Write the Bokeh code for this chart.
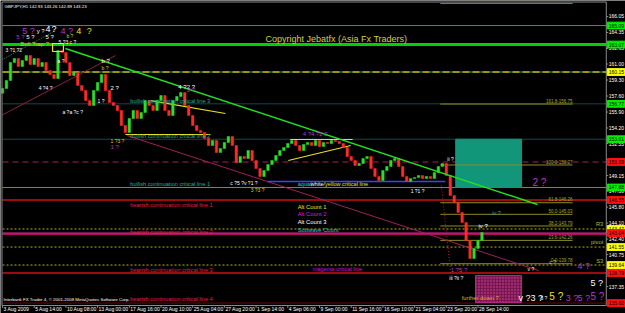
from bokeh.plotting import figure
from bokeh.models import Range1d
from bokeh.embed import file_html
from bokeh.resources import INLINE
from bokeh.core.properties import value

# ---------------- data ----------------
symbol_info = "GBPJPY,H1  142.93 143.26 142.89 143.23"
copyright_text = "Copyright Jebatfx (Asia Fx Traders)"
footer_text = "Interbank FX Trader 4, \u00a9 2001-2008 MetaQuotes Software Corp."

bars_per_candle = 8
first_open = 157.90
closes = [
    158.40, 159.25, 161.16, 161.59, 160.74, 161.37, 161.91, 160.95, 161.59, 160.74,
    161.16, 160.31, 159.89, 159.46, 162.44, 162.22, 161.16, 159.78, 160.10, 158.72,
    158.19, 157.12, 156.59, 158.19, 159.04, 159.89, 158.19, 156.91, 156.59, 156.06,
    154.47, 153.72, 155.21, 156.06, 155.21, 155.85, 157.12, 156.59, 156.06, 157.12,
    157.65, 156.06, 155.53, 157.12, 157.55, 157.97, 156.59, 155.53, 154.47, 153.94,
    153.72, 153.08, 152.34, 152.87, 151.60, 152.02, 152.66, 153.30, 152.34, 150.53,
    151.17, 150.96, 151.81, 150.75, 149.90, 149.05, 149.68, 150.32, 150.75, 151.28,
    151.81, 152.13, 152.55, 152.87, 152.34, 151.81, 152.45, 152.66, 152.34, 152.87,
    152.23, 152.66, 152.55, 152.87, 152.77, 152.55, 152.13, 151.17, 150.75, 150.22,
    150.43, 150.96, 151.17, 149.90, 149.05, 148.62, 149.68, 150.11, 150.75, 150.96,
    150.11, 149.05, 148.52, 148.83, 148.94, 149.15, 148.83, 149.05, 148.83, 149.47,
    150.11, 150.43, 149.15, 147.03, 146.28, 145.22, 144.16, 142.25, 140.33, 141.40,
    142.25, 143.10,
]

time_ticks = [0, 64, 128, 192, 256, 320, 384, 448, 512, 576, 640, 704, 768, 832, 896, 960]
time_labels = ["3 Aug 2009", "5 Aug 14:00", "10 Aug 08:00", "13 Aug 00:00", "17 Aug 16:00",
               "20 Aug 10:00", "25 Aug 04:00", "27 Aug 20:00", "1 Sep 14:00", "4 Sep 06:00",
               "9 Sep 00:00", "11 Sep 16:00", "16 Sep 10:00", "21 Sep 04:00", "23 Sep 20:00",
               "28 Sep 14:00"]
price_ticks = [166.05, 164.35, 162.65, 161.00, 159.30, 157.60, 155.90, 154.20, 152.55,
               150.85, 149.15, 147.50, 145.80, 144.10, 142.40, 140.75, 139.05, 137.35]

# horizontal levels
resistance_top = 165.09
bull_trap_level = 163.07
dashed_level = 160.15
bull_crit_3 = 156.77
bull_crit_2 = 153.01
maroon_dash = 150.59
bull_crit_1 = 147.88
bear_crit_1 = 146.55
r3_level = 143.47
bear_crit_2 = 143.04
bear_crit_2b = 142.88
pivot_level = 141.55
s3_level = 139.64
bear_crit_3 = 138.79
bear_crit_4 = 135.60

# fibonacci
fib_ratios = ["261.8", "161.8", "100.0", "61.8", "50.0", "38.2", "23.6", "0.0"]
fib_prices = [167.44, 156.75, 150.27, 146.26, 145.03, 143.79, 142.26, 139.78]
fib_bars = [884, 1151]

# trend lines: (bars, prices)
green_trend = ([127, 1080], [162.65, 146.07])
maroon_rise = ([0, 228], [155.60, 161.90])
maroon_fall = ([252, 1082], [153.40, 139.06])
teal_rise = ([0, 107], [161.48, 164.56])
yellow_a = ([299, 450], [157.12, 155.74])
yellow_b = ([248, 420], [153.51, 153.51])
tri_top = ([581, 707], [152.98, 152.98])
tri_bottom = ([577, 703], [150.75, 152.34])
blue_line = ([535, 894], [148.52, 148.52])
red_vertical = ([886, 906], [148.09, 138.31])

# boxes: (left bar, right bar, top price, bottom price)
teal_box = (915, 1048, 153.01, 147.88)
magenta_box = (955, 1048, 138.53, 135.66)
trap_box = (101, 123, 163.18, 162.33)

# named texts: (bar, price)
copyright_pos = (531, 163.61)
info_pos = (4, 167.15)
footer_pos = (2, 135.95)
bull_trap_pos = (36, 163.18)
critical_text_bar = 258
bull_text_prices = [157.12, 153.30, 148.20]
bear_text_prices = [146.07, 143.10, 139.16, 136.08]
alt_bar = 596
alt_prices = [145.86, 145.01, 144.16, 143.31]
awy_pos = (596, 148.20)
magenta_crit_pos = (626, 139.27)
further_pos = (927, 136.19)
pivot_text_bar = 1213
pivot_text_prices = [143.95, 142.14, 140.12]

# wave labels grouped by look: (texts, bars, prices)
white_small = (["5 ?3 c ?", "3 ?1 ?2", "a ?", "4 ?4 ?", "1 ?", "a ?a ?c ?", "c ?5 ?v ?1 ?",
                "ii ?", "1 ?1 ?", "iii ?ii ?", "v ?", "5 ?"],
               [113, 6, 111, 73, 192, 121, 460, 898, 824, 902, 1060, 1086],
               [163.29, 162.44, 161.37, 158.40, 157.12, 155.85, 148.41, 150.96, 147.56, 138.21, 139.27, 136.19])
white_mid = (["y ?", "5 ?", "5 ?", "b ?", "2 ?", "4 ?2 ?", "iv ?"],
             [69, 48, 87, 200, 218, 355, 961],
             [164.46, 163.92, 163.92, 161.27, 158.50, 158.61, 143.84])
white_big = (["4", "?", "v ?3 ?", "5 ?"],
             [87, 99, 1042, 1187],
             [164.67, 164.67, 136.19, 137.78])
mag_mid = (["5 ?", "2 ?", "4 ?4 ?2 2", "1 ?5 ?", "1 ?"],
           [28, 372, 606, 905, 218],
           [163.92, 158.29, 153.61, 139.06, 152.23])
mag_big = (["5 ?", "4 ?", "4 ?", "3 ?", "5 ?"],
           [40, 117, 1161, 1137, 1161],
           [164.56, 164.56, 139.59, 136.19, 136.19])
mag_huge = (["5 ?", "2 ?"], [1187, 1070], [136.29, 148.41])
yel_small = (["1 ?3 ?", "3 ?3 ?", "c ?", "b ?", "b ?"],
             [218, 501, 1104, 129, 200],
             [152.87, 147.66, 139.91, 164.03, 160.63])
yel_big = (["4", "?"], [149, 170], [164.56, 164.56])
yel_huge = (["5 ?"], [1104], [136.29])
teal_small = (["iv ?"], [989], [145.22])

# ---------------- chart frame (MetaTrader style window) ----------------
AXIS_BAR = 1219          # right price scale position (bars)
PLOT_TOP = 167.54
PLOT_BOTTOM = 135.34
p = figure(width=625, height=313, x_range=Range1d(-4.04, 1257.8), y_range=Range1d(134.49, 167.75),
           output_backend="svg", toolbar_location=None, x_axis_location=None, y_axis_location=None,
           background_fill_color="black", border_fill_color="black",
           min_border=0, outline_line_color=None)
p.grid.visible = False
FONT = "Liberation Sans"
GRAY = "#8a8a8a"

def hline(price, color, width=1, dash="solid"):
    p.line([0, AXIS_BAR], [price, price], line_color=color, line_width=width, line_dash=dash)

def txt(texts, xs_, ys_, color, size, align="left"):
    p.text(x=xs_, y=ys_, text=texts, text_color=color, text_font=value(FONT),
           text_font_size=size, text_align=align, text_baseline="middle")

# horizontal levels
hline(resistance_top, "#1f9a8c")
hline(bull_trap_level, "#00d000", 3)
hline(dashed_level, "#1f9a8c", 1)
hline(dashed_level, "#9a9410", 2, "7 3")
hline(bull_crit_3, "#1f9a8c", 1, "1 1")
hline(bull_crit_2, "#1f9a8c", 1, "1 1")
hline(maroon_dash, "#a8205c", 1, "6 4")
hline(bull_crit_1, "#1fa88c", 1.2)
hline(bear_crit_1, "#d01010", 1.5)
hline(r3_level, "#b0b020", 1, "2 2")
hline(bear_crit_2, "#e02a9c", 1.3)
hline(bear_crit_2b, "#b0105c", 1)
hline(pivot_level, "#b0b020", 1, "2 2")
hline(s3_level, "#b0b020", 1, "2 2")
hline(bear_crit_3, "#d01010", 1.5)
hline(bear_crit_4, "#d01010", 1, "1 1")

# boxes
p.quad(left=[teal_box[0]], right=[teal_box[1]], top=[teal_box[2]], bottom=[teal_box[3]],
       fill_color="#11967a", line_color="#11967a")
p.quad(left=[magenta_box[0]], right=[magenta_box[1]], top=[magenta_box[2]], bottom=[magenta_box[3]],
       fill_color="#7a1650", line_color="#b02a80", hatch_pattern="dot", hatch_color="#d04aa0",
       hatch_scale=3)

# fibonacci (labels only where they fit inside the window)
for fp in fib_prices:
    p.line(fib_bars, [fp, fp], line_color="#8c8c24", line_width=1)
fib_shown = [(r, fp) for r, fp in zip(fib_ratios, fib_prices) if fp + 0.6 < PLOT_TOP]
txt([f"{r}-{fp:.2f}" for r, fp in fib_shown], [fib_bars[1]] * len(fib_shown),
    [fp + 0.35 for r, fp in fib_shown], "#a8a830", "4.5px", "right")

# trend lines
p.line(*teal_rise, line_color="#2a8a6a", line_width=1, line_dash="1 1")
p.line(*maroon_rise, line_color="#8c2040", line_width=1)
p.line(*maroon_fall, line_color="#a0205a", line_width=1)
p.line(*yellow_a, line_color="#e8e020", line_width=1.2)
p.line(*yellow_b, line_color="#e8e020", line_width=1.2)
p.line(*tri_top, line_color="#e8e020", line_width=1.2)
p.line(*tri_bottom, line_color="#e8e020", line_width=1.2)
p.line(*blue_line, line_color="#3046ff", line_width=1.5)
p.line(*red_vertical, line_color="#b02040", line_width=1, line_dash="1 2")

# candles
xs = [i * bars_per_candle for i in range(len(closes))]
opens = [first_open] + closes[:-1]
tops = [max(o, c) for o, c in zip(opens, closes)]
bots = [min(o, c) for o, c in zip(opens, closes)]
cols = ["#28e028" if c >= o else "#ff2a2a" for o, c in zip(opens, closes)]
p.vbar(x=xs, top=tops, bottom=bots, width=5, fill_color=cols, line_color=cols, line_width=0.5)

p.line(*green_trend, line_color="#22e022", line_width=1.5)
p.quad(left=[trap_box[0]], right=[trap_box[1]], top=[trap_box[2]], bottom=[trap_box[3]],
       fill_color=None, line_color="#e8e020", line_width=1.2)

# texts
txt([copyright_text], [copyright_pos[0]], [copyright_pos[1]], "#d4d040", "9px")
txt([symbol_info], [info_pos[0]], [info_pos[1]], "white", "4.4px")
txt([footer_text], [footer_pos[0]], [footer_pos[1]], "white", "4.4px")
txt(["Bull Trap ?"], [bull_trap_pos[0]], [bull_trap_pos[1]], "#c8c838", "6px")
txt(["bullish continuation critical line 3", "bullish continuation critical line 2",
     "bullish continuation critical line 1"], [critical_text_bar] * 3, bull_text_prices, "#22b08c", "5.6px")
txt(["bearish continuation critical line 1", "bearish continuation critical line 2",
     "bearish continuation critical line 3", "bearish continuation critical line 4"],
    [critical_text_bar] * 4, bear_text_prices, "#e02050", "5.6px")
txt(["Alt Count 1", "Alt Count 2", "Alt Count 3", "Subwave Count"], [alt_bar] * 4, alt_prices,
    ["#e0e030", "#c828d8", "white", "#20c8c8"], "5.8px")
txt(["aqua/", "white", "/yellow critical line"], [awy_pos[0], awy_pos[0] + 26, awy_pos[0] + 52],
    [awy_pos[1]] * 3, ["#20d0d0", "white", "#e0e030"], "5.6px")
txt(["magenta critical line"], [magenta_crit_pos[0]], [magenta_crit_pos[1]], "#d010d0", "5.6px")
txt(["further down ?"], [further_pos[0]], [further_pos[1]], "#e8a820", "5.8px")
txt(["R3", "pivot", "S3"], [pivot_text_bar] * 3, pivot_text_prices, "#b8b840", "5.8px", "right")

txt(*white_small, "white", "5px")
txt(*white_mid, "white", "6px")
txt(*white_big, "white", "9px")
txt(*mag_mid, "#b038d0", "6px")
txt(*mag_big, "#b038d0", "9px")
txt(*mag_huge, "#b038d0", "10px")
txt(*yel_small, "#d8d040", "5px")
txt(*yel_big, "#e8e030", "9px")
txt(*yel_huge, "#e8e030", "10px")
txt(*teal_small, "#20a8a8", "5.5px")

# window border and scales
p.line([-1, AXIS_BAR], [PLOT_TOP + 0.05, PLOT_TOP + 0.05], line_color=GRAY, line_width=1)
p.line([-1, -1], [PLOT_TOP + 0.05, PLOT_BOTTOM], line_color=GRAY, line_width=1)
p.line([-1, AXIS_BAR], [PLOT_BOTTOM, PLOT_BOTTOM], line_color=GRAY, line_width=1)
p.line([AXIS_BAR, AXIS_BAR], [PLOT_TOP + 0.05, PLOT_BOTTOM], line_color=GRAY, line_width=1)

# price scale
p.segment(x0=[AXIS_BAR] * len(price_ticks), x1=[AXIS_BAR + 4] * len(price_ticks),
          y0=price_ticks, y1=price_ticks, line_color=GRAY, line_width=1)
txt([f"{t:.2f}" for t in price_ticks], [AXIS_BAR + 5] * len(price_ticks), price_ticks, "white", "5px")

# time scale
p.segment(x0=time_ticks, x1=time_ticks, y0=[PLOT_BOTTOM] * len(time_ticks),
          y1=[PLOT_BOTTOM - 0.25] * len(time_ticks), line_color=GRAY, line_width=1)
txt(time_labels, [t + 2 for t in time_ticks], [PLOT_BOTTOM - 0.42] * len(time_ticks), "white", "5px")

# highlighted price markers on the price scale
marker_groups = (([resistance_top, bull_trap_level, bull_crit_3, bull_crit_2, bull_crit_1], "#00f000"),
                 ([dashed_level, r3_level, pivot_level, s3_level], "#ffff00"),
                 ([maroon_dash, bear_crit_1, bear_crit_2, bear_crit_3, bear_crit_4], "#ff1010"))
for prices, color in marker_groups:
    p.quad(left=[AXIS_BAR + 2] * len(prices), right=[1257.8] * len(prices),
           top=[pr + 0.36 for pr in prices], bottom=[pr - 0.36 for pr in prices],
           fill_color=color, line_color=color)
    txt([f"{pr:.2f}" for pr in prices], [AXIS_BAR + 5] * len(prices), prices, "black", "5px")

open("out.html", "w").write(file_html(p, INLINE))
